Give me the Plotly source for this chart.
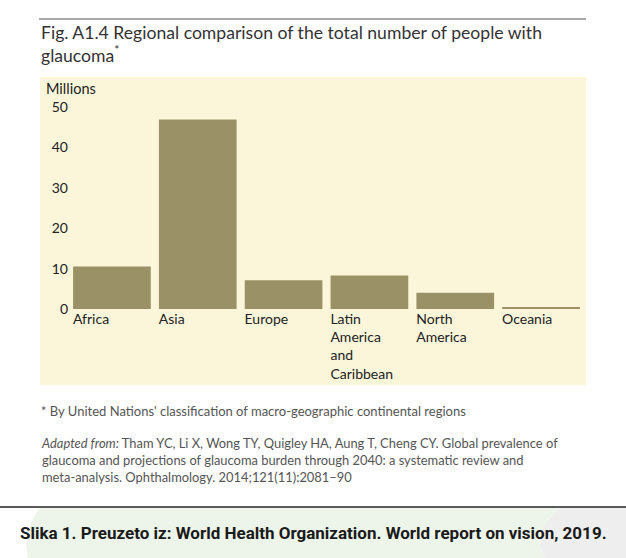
import plotly.graph_objects as go

# Regional totals (millions of people)
regions = ['Africa', 'Asia', 'Europe', 'Latin<br>America<br>and<br>Caribbean',
           'North<br>America', 'Oceania']
people_millions = [10.5, 46.9, 7.1, 8.3, 4.0, 0.3]
y_ticks = [0, 10, 20, 30, 40, 50]

W, H = 626, 558
L, R, T, B = 69, 42, 107, 249
pw = W - L - R
ph = H - T - B


def px(x):
    # pixel x -> paper x
    return (x - L) / pw


def py(y):
    # pixel y (from top) -> paper y
    return (H - B - y) / ph


bar_color = '#9b9167'
panel_color = '#fbf6da'

fig = go.Figure()

fig.add_trace(go.Bar(
    x=regions,
    y=people_millions,
    marker_color=bar_color,
    marker_line_width=0,
    hovertemplate='%{x}: %{y} million<extra></extra>',
))

shapes = [
    # rule above the title
    dict(type='line', xref='paper', yref='paper',
         x0=px(39), x1=px(586), y0=py(19), y1=py(19),
         line=dict(color='#555555', width=1)),
    # cream chart panel
    dict(type='rect', xref='paper', yref='paper', layer='below',
         x0=px(40), x1=px(586), y0=py(77), y1=py(385),
         fillcolor=panel_color, line_width=0),
    # caption band at the bottom
    dict(type='path', xref='paper', yref='paper', layer='below',
         path=f"M {px(40)},{py(508)} L {px(560)},{py(508)} "
              f"Q {px(530)},{py(533)} {px(545)},{py(558)} "
              f"L {px(28)},{py(558)} Q {px(22)},{py(530)} {px(40)},{py(508)} Z",
         fillcolor='#edf5ea', line_width=0),
    dict(type='path', xref='paper', yref='paper', layer='below',
         path=f"M {px(560)},{py(508)} L {px(626)},{py(508)} "
              f"L {px(626)},{py(558)} L {px(545)},{py(558)} "
              f"Q {px(530)},{py(533)} {px(560)},{py(508)} Z",
         fillcolor='#eeeeee', line_width=0),
    dict(type='line', xref='paper', yref='paper',
         x0=px(0), x1=px(626), y0=py(507), y1=py(507),
         line=dict(color='#222222', width=1.5)),
]

annotations = [
    dict(text='Fig. A1.4 Regional comparison of the total number of people with<br>'
              'glaucoma<sup>*</sup>',
         xref='paper', yref='paper', x=px(39), y=py(20),
         xanchor='left', yanchor='top', align='left', showarrow=False,
         font=dict(family='Lato', size=17.6, color='#333333')),
    dict(text='Millions', xref='paper', yref='paper', x=px(44), y=py(89),
         xanchor='left', yanchor='middle', showarrow=False,
         font=dict(family='Lato', size=14.5, color='#222222')),
    dict(text="* By United Nations' classification of macro-geographic continental regions",
         xref='paper', yref='paper', x=px(39), y=py(411),
         xanchor='left', yanchor='middle', showarrow=False,
         font=dict(family='Lato', size=13, color='#555555')),
    dict(text='<i>Adapted from:</i> Tham YC, Li X, Wong TY, Quigley HA, Aung T, Cheng CY. '
              'Global prevalence of<br>glaucoma and projections of glaucoma burden '
              'through 2040: a systematic review and<br>meta-analysis. '
              'Ophthalmology. 2014;121(11):2081–90',
         xref='paper', yref='paper', x=px(39), y=py(433),
         xanchor='left', yanchor='top', align='left', showarrow=False,
         font=dict(family='Lato', size=12.9, color='#555555')),
    dict(text='<b>Slika 1. Preuzeto iz: World Health Organization. '
              'World report on vision, 2019.</b>',
         xref='paper', yref='paper', x=px(18), y=py(533),
         xanchor='left', yanchor='middle', showarrow=False,
         font=dict(family='Roboto', size=17, color='#1a1a1a')),
]

fig.update_layout(
    width=W, height=H,
    margin=dict(l=L, r=R, t=T, b=B),
    paper_bgcolor='white',
    plot_bgcolor='rgba(0,0,0,0)',
    showlegend=False,
    bargap=0.095,
    shapes=shapes,
    annotations=annotations,
    font=dict(family='Lato', color='#222222'),
)

fig.update_xaxes(
    showgrid=False, showline=False, zeroline=False, ticks='',
    ticklabelposition='outside right', ticklabelshift=-39,
    tickfont=dict(family='Lato', size=14, color='#222222'),
    fixedrange=True,
)

fig.update_yaxes(
    range=[0, 50], tickvals=y_ticks,
    showgrid=False, showline=False, zeroline=False, ticks='',
    tickfont=dict(family='Lato', size=14, color='#222222'),
    fixedrange=True,
)

fig.write_html('out.html', config={'displayModeBar': False},
               post_script="document.body.style.margin='0';")
